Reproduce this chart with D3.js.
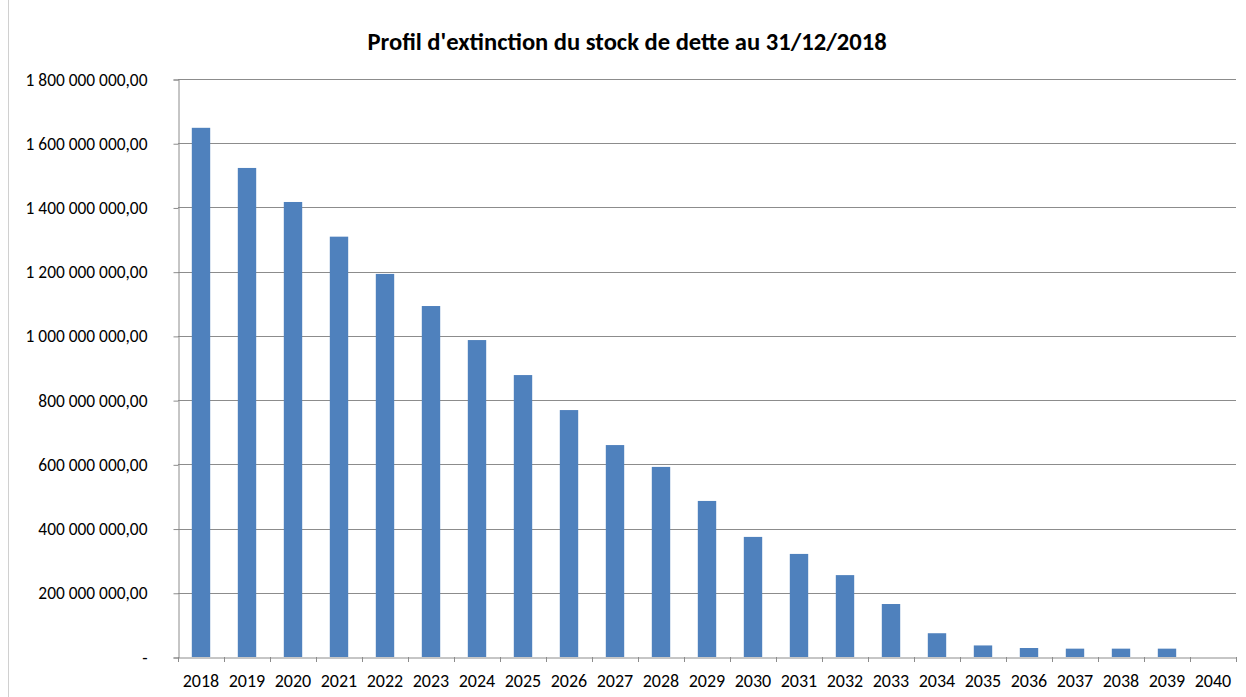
<!DOCTYPE html>
<html><head><meta charset="utf-8">
<script src="https://cdn.jsdelivr.net/npm/d3@7"></script>
<style>body{margin:0;background:#fff}svg{display:block}</style>
</head><body>
<svg id="c" width="1246" height="697"></svg>
<script>
const years = ["2018","2019","2020","2021","2022","2023","2024","2025","2026","2027","2028","2029","2030","2031","2032","2033","2034","2035","2036","2037","2038","2039","2040"];
const values = [1648e6,1523e6,1417e6,1309e6,1193e6,1093e6,987e6,878e6,769e6,660e6,592e6,486e6,374e6,321e6,255e6,165e6,74e6,36e6,28e6,26e6,26e6,26e6,0];
const yTicks = [0,2e8,4e8,6e8,8e8,10e8,12e8,14e8,16e8,18e8];
const title = "Profil d'extinction du stock de dette au 31/12/2018";

const svg = d3.select("#c");
const m = {l:178, r:1236, t:79, b:657};
const x = d3.scaleBand().domain(years).range([m.l, m.r]).paddingInner(0.6).paddingOuter(0.3);
const y = d3.scaleLinear().domain([0, 1.8e9]).range([m.b, m.t]);
const font = "Carlito, 'Open Sans', 'Liberation Sans', sans-serif";

svg.append("line").attr("x1",8.5).attr("x2",8.5).attr("y1",0).attr("y2",697).attr("stroke","#d0d0d0");

const fmt = v => v === 0 ? "-" : d3.format(",.2f")(v).replace(/,/g," ").replace(/\.(\d\d)$/, ",$1");

// gridlines
svg.append("g").selectAll("line").data(yTicks.filter(d=>d>0)).join("line")
  .attr("x1", m.l).attr("x2", m.r).attr("y1", d=>Math.round(y(d))+0.5).attr("y2", d=>Math.round(y(d))+0.5)
  .attr("stroke","#8c8c8c").attr("stroke-width",1);

// y axis
const ya = svg.append("g").attr("transform",`translate(${m.l+0.5},0.5)`)
  .call(d3.axisLeft(y).tickValues(yTicks).tickFormat(fmt).tickSize(5).tickPadding(26));
ya.select(".domain").attr("stroke","#8c8c8c");
ya.selectAll(".tick line").attr("stroke","#8c8c8c");
ya.selectAll("text").attr("font-family",font).attr("font-size",17.4).attr("fill","#000");

// bars
svg.append("g").selectAll("rect").data(values).join("rect")
  .attr("x",(d,i)=>x(years[i])).attr("width",x.bandwidth())
  .attr("y",d=>y(d)).attr("height",d=>y(0)-y(d))
  .attr("fill","#4f81bd");

// x axis
const xa = svg.append("g").attr("transform",`translate(0,${m.b+0.5})`)
  .call(d3.axisBottom(x).tickSize(0).tickPadding(17));
xa.select(".domain").attr("stroke","#8c8c8c");
xa.selectAll("text").attr("font-family",font).attr("font-size",18).attr("fill","#000");
svg.append("g").selectAll("line").data(d3.range(years.length+1)).join("line")
  .attr("x1",i=>Math.round(m.l + i*(m.r-m.l)/years.length)+0.5)
  .attr("x2",i=>Math.round(m.l + i*(m.r-m.l)/years.length)+0.5)
  .attr("y1",m.b).attr("y2",m.b+5).attr("stroke","#8c8c8c");

svg.append("text").attr("x",627).attr("y",50).attr("text-anchor","middle")
  .attr("font-family",font).attr("font-weight","bold").attr("font-size",24.6).text(title);
</script>
</body></html>
